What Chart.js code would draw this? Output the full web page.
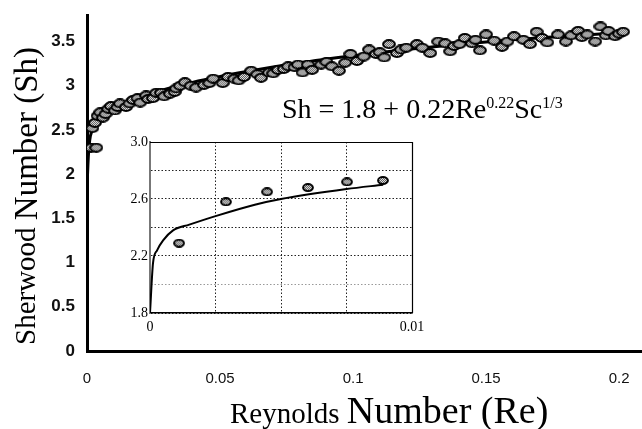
<!DOCTYPE html>
<html>
<head>
<meta charset="utf-8">
<script src="https://cdn.jsdelivr.net/npm/chart.js@4.4.1/dist/chart.umd.min.js"></script>
<style>
  html, body { margin: 0; padding: 0; background: #fff; }
  #wrap { position: relative; width: 642px; height: 429px; }
  #main { position: absolute; left: 0; top: 0; }
  #inset { position: absolute; left: 110px; top: 130px; }
</style>
</head>
<body>
<div id="wrap">
  <canvas id="main" width="642" height="429"></canvas>
  <canvas id="inset" width="320" height="210"></canvas>
</div>
<script>
// ---------- DATA ----------
// Main chart: measured Sherwood numbers vs Reynolds number
const mainPointsRe = [0.0015,0.0035,0.002,0.003,0.004,0.005,0.006,0.007,0.008,0.009,0.0105,0.0115,0.0124,0.0147,0.016,0.0173,0.019,0.020,0.0222,0.023,0.0248,0.026,0.0278,0.029,0.0312,0.033,0.0335,0.035,0.0368,0.039,0.041,0.044,0.046,0.0474,0.051,0.053,0.0553,0.057,0.059,0.0617,0.064,0.0654,0.0684,0.070,0.0718,0.074,0.0756,0.078,0.0793,0.081,0.083,0.0846,0.088,0.090,0.092,0.0947,0.097,0.099,0.1015,0.104,0.106,0.1086,0.110,0.1117,0.1135,0.1165,0.118,0.12,0.124,0.126,0.129,0.132,0.1346,0.1365,0.138,0.140,0.142,0.1447,0.146,0.1477,0.150,0.153,0.156,0.158,0.1605,0.164,0.1665,0.169,0.171,0.173,0.177,0.180,0.182,0.1846,0.186,0.188,0.191,0.193,0.195,0.196,0.1985,0.200,0.2015];
const mainPointsSh = [2.30,2.30,2.52,2.58,2.66,2.70,2.64,2.68,2.74,2.77,2.72,2.76,2.80,2.76,2.80,2.84,2.86,2.81,2.89,2.85,2.86,2.92,2.92,2.88,2.91,2.93,2.97,3.00,3.04,3.00,2.98,3.01,3.03,3.08,3.03,3.10,3.08,3.06,3.10,3.17,3.13,3.09,3.15,3.14,3.18,3.19,3.22,3.21,3.24,3.15,3.24,3.18,3.24,3.27,3.22,3.17,3.26,3.36,3.28,3.33,3.41,3.36,3.38,3.32,3.47,3.37,3.41,3.43,3.47,3.43,3.37,3.50,3.48,3.39,3.45,3.47,3.54,3.48,3.52,3.40,3.58,3.51,3.44,3.50,3.56,3.52,3.47,3.61,3.54,3.49,3.58,3.50,3.57,3.62,3.55,3.58,3.50,3.67,3.57,3.62,3.56,3.59,3.61];
// Main chart: correlation curve
const mainCurveRe = [0,0.0002,0.0005,0.001,0.002,0.004,0.008,0.015,0.025,0.04,0.06,0.08,0.10,0.12,0.14,0.16,0.18,0.20];
const mainCurveSh = [1.80,2.00,2.20,2.38,2.50,2.60,2.70,2.80,2.92,3.04,3.16,3.26,3.34,3.41,3.47,3.52,3.56,3.60];
// Inset: low-Re detail
const insetPointsRe = [0.00111,0.0029,0.00447,0.00603,0.00752,0.00889];
const insetPointsSh = [2.29,2.58,2.65,2.68,2.72,2.73];
const insetCurveRe = [0,0.000115,0.00027,0.0005,0.00088,0.0015,0.0025,0.004,0.005,0.0075,0.0089];
const insetCurveSh = [1.80,2.15,2.24,2.31,2.38,2.42,2.48,2.56,2.60,2.67,2.70];
// Tick labels
const mainXTicks = ['0','0.05','0.1','0.15','0.2'];
const mainYTicks = ['0','0.5','1','1.5','2','2.5','3','3.5'];
const insetYTicks = ['1.8','2.2','2.6','3.0'];
const insetXTicks = ['0','0.01'];
// Texts
const xTitleA = 'Reynolds ';
const xTitleB = 'Number (Re)';
const yTitleA = 'Sherwood ';
const yTitleB = 'Number (Sh)';
const eqParts = [['Sh = 1.8 + 0.22Re', 0], ['0.22', 1], ['Sc', 0], ['1/3', 1]];

// ---------- helpers ----------
const toXY = (xs, ys) => xs.map((x, i) => ({ x: x, y: ys[i] }));

function makeMarker(w, h) {
  const pat = document.createElement('canvas');
  pat.width = 2; pat.height = 2;
  const p = pat.getContext('2d');
  p.fillStyle = '#e8e8e8'; p.fillRect(0, 0, 2, 2);
  p.fillStyle = '#5a5a5a'; p.fillRect(0, 0, 1, 1); p.fillRect(1, 1, 1, 1);
  const c = document.createElement('canvas');
  c.width = w; c.height = h;
  const g = c.getContext('2d');
  g.beginPath();
  g.ellipse(w / 2, h / 2, w / 2 - 1.1, h / 2 - 1.1, 0, 0, Math.PI * 2);
  g.fillStyle = g.createPattern(pat, 'repeat');
  g.fill();
  g.lineWidth = 2;
  g.strokeStyle = '#000';
  g.stroke();
  return c;
}
const markerMain = makeMarker(14, 10);
const markerInset = makeMarker(12, 9);

function noPad(s) { s.paddingLeft = 0; s.paddingRight = 0; s.paddingTop = 0; s.paddingBottom = 0; }

// ---------- main chart ----------
const mainTitles = {
  id: 'mainTitles',
  afterDraw(chart) {
    const ctx = chart.ctx;
    ctx.save();
    ctx.fillStyle = '#000';
    ctx.textBaseline = 'alphabetic';
    // x title
    ctx.font = '29px "Liberation Serif"';
    const wa = ctx.measureText(xTitleA).width;
    ctx.fillText(xTitleA, 230, 423);
    ctx.font = '38px "Liberation Serif"';
    ctx.fillText(xTitleB, 230 + wa, 423);
    ctx.restore();
    // y title (rotated, reads bottom to top)
    ctx.save();
    ctx.fillStyle = '#000';
    ctx.font = '29px "Liberation Serif"';
    const ya = ctx.measureText(yTitleA).width;
    const startY = 345;
    ctx.save();
    ctx.translate(35, startY);
    ctx.rotate(-Math.PI / 2);
    ctx.font = '29px "Liberation Serif"';
    ctx.fillText(yTitleA, 0, 0);
    ctx.restore();
    ctx.save();
    ctx.translate(37, startY - ya);
    ctx.rotate(-Math.PI / 2);
    ctx.font = '33px "Liberation Serif"';
    ctx.fillText(yTitleB, 0, 0);
    ctx.restore();
    ctx.restore();
    // equation
    ctx.save();
    ctx.fillStyle = '#000';
    let ex = 282;
    const base = 118;
    eqParts.forEach(([t, sup]) => {
      ctx.font = sup ? '16px "Liberation Serif"' : '28px "Liberation Serif"';
      ctx.fillText(t, ex, sup ? base - 10 : base);
      ex += ctx.measureText(t).width;
    });
    ctx.restore();
  }
};

new Chart(document.getElementById('main'), {
  type: 'scatter',
  data: {
    datasets: [
      {
        data: toXY(mainPointsRe, mainPointsSh),
        pointStyle: markerMain,
        pointRadius: 6,
        showLine: false
      },
      {
        data: toXY(mainCurveRe, mainCurveSh),
        showLine: true,
        borderColor: '#000',
        borderWidth: 3,
        pointRadius: 0,
        cubicInterpolationMode: 'monotone',
        fill: false
      }
    ]
  },
  options: {
    responsive: false,
    animation: false,
    devicePixelRatio: 1,
    layout: { autoPadding: false, padding: { top: 15, right: 0, left: 0, bottom: 0 } },
    plugins: { legend: { display: false }, tooltip: { enabled: false } },
    scales: {
      x: {
        type: 'linear', min: 0, max: 0.2086,
        afterFit(s) { s.height = 78; noPad(s); },
        grid: { display: false, drawTicks: false },
        border: { display: true, color: '#000', width: 3 },
        ticks: {
          stepSize: 0.05, includeBounds: false, padding: 19, maxRotation: 0,
          font: { family: '"Liberation Sans"', size: 15 }, color: '#111',
          callback: (v) => mainXTicks[Math.round(v / 0.05)] ?? ''
        }
      },
      y: {
        type: 'linear', min: 0, max: 3.8,
        afterFit(s) { s.width = 87; noPad(s); },
        grid: { display: false, drawTicks: false },
        border: { display: true, color: '#000', width: 3 },
        ticks: {
          stepSize: 0.5, includeBounds: false, padding: 12,
          font: { family: '"Liberation Sans"', size: 17, weight: 'bold' }, color: '#111',
          callback: (v) => mainYTicks[Math.round(v / 0.5)] ?? ''
        }
      }
    }
  },
  plugins: [mainTitles]
});

// ---------- inset chart ----------
const insetFrame = {
  id: 'insetFrame',
  afterDraw(chart) {
    const { ctx, chartArea: a } = chart;
    ctx.save();
    ctx.strokeStyle = '#000';
    ctx.lineWidth = 1.2;
    ctx.beginPath();
    ctx.moveTo(a.left, a.top + 0.5); ctx.lineTo(a.right + 0.5, a.top + 0.5);
    ctx.lineTo(a.right + 0.5, a.bottom);
    ctx.stroke();
    ctx.restore();
  }
};

new Chart(document.getElementById('inset'), {
  type: 'scatter',
  data: {
    datasets: [
      {
        data: toXY(insetPointsRe, insetPointsSh),
        pointStyle: markerInset,
        pointRadius: 6,
        showLine: false
      },
      {
        data: toXY(insetCurveRe, insetCurveSh),
        showLine: true,
        borderColor: '#000',
        borderWidth: 2,
        pointRadius: 0,
        cubicInterpolationMode: 'monotone',
        fill: false
      }
    ]
  },
  options: {
    responsive: false,
    animation: false,
    devicePixelRatio: 1,
    layout: { autoPadding: false, padding: { top: 12, right: 18, left: 0, bottom: 0 } },
    plugins: { legend: { display: false }, tooltip: { enabled: false } },
    scales: {
      x: {
        type: 'linear', min: 0, max: 0.01,
        afterFit(s) { s.height = 27; noPad(s); },
        grid: { display: true, drawTicks: false, color: '#222', lineWidth: 1 },
        border: { display: true, color: '#000', width: 1.5, dash: [1.5, 2] },
        ticks: {
          stepSize: 0.0025, padding: 6, maxRotation: 0, autoSkip: false,
          font: { family: '"Liberation Serif"', size: 14 }, color: '#000',
          callback: (v) => {
            const k = Math.round(v / 0.0025);
            return k === 0 ? insetXTicks[0] : (k === 4 ? insetXTicks[1] : '');
          }
        }
      },
      y: {
        type: 'linear', min: 1.8, max: 3.0,
        afterFit(s) { s.width = 40; noPad(s); },
        grid: {
          display: true, drawTicks: false, lineWidth: 1,
          color: (c) => {
            const k = Math.round((c.tick.value - 1.8) / 0.2);
            return k === 1 ? '#999' : '#222';
          }
        },
        border: { display: true, color: '#777', width: 2, dash: [1.5, 2] },
        ticks: {
          stepSize: 0.2, padding: 2, autoSkip: false,
          font: { family: '"Liberation Serif"', size: 14 }, color: '#000',
          callback: (v) => {
            const k = Math.round((v - 1.8) / 0.2);
            return k % 2 === 0 ? insetYTicks[k / 2] : '';
          }
        }
      }
    }
  },
  plugins: [insetFrame]
});
</script>
</body>
</html>
